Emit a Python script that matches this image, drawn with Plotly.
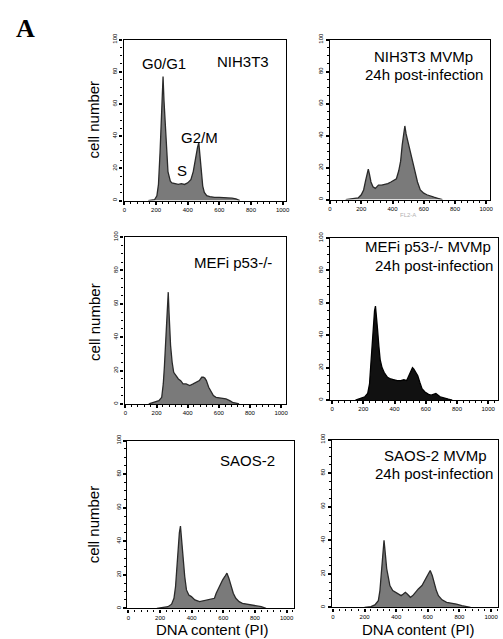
import plotly.graph_objects as go

# ---------------- data (DNA content channel, cell number as % of axis scale) ----------------
dna_nih = [150, 190, 205, 215, 225, 232, 238, 244, 250, 262, 275, 290, 300, 320, 340, 360, 380, 400,
           420, 435, 445, 455, 462, 470, 478, 487, 495, 505, 520, 540, 570, 600, 640, 680, 705, 730]
cnt_nih = [0, 0.5, 3, 10, 30, 50, 65, 77, 62, 39, 18, 12, 11, 10.5, 10, 10.5, 10, 11,
           13, 18, 24, 28, 33, 36, 28, 18, 9, 5, 3, 2.5, 2, 2, 1.8, 1.5, 1, 0]

dna_nih_mvm = [100, 150, 180, 200, 215, 228, 238, 245, 252, 262, 275, 290, 310, 330, 350, 370, 390, 410,
               425, 440, 452, 462, 470, 479, 487, 494, 505, 515, 525, 536, 548, 560, 578, 600, 620, 645,
               665, 690, 720]
cnt_nih_mvm = [0, 0.5, 1, 3, 6, 12, 17, 19, 16, 11, 8, 7, 9, 9, 9.5, 10, 11, 12,
               13, 18, 24, 34, 40, 46, 41, 38, 34, 31, 26, 22, 16, 11, 6, 4, 3, 2,
               1.5, 0.8, 0]

dna_mef = [150, 190, 215, 233, 243, 250, 258, 265, 270, 275, 280, 290, 300, 310, 325, 340, 355, 370,
           390, 413, 435, 455, 475, 490, 500, 510, 520, 535, 550, 565, 582, 610, 646, 670, 688, 710, 730]
cnt_mef = [0, 1, 2, 4, 12, 22, 38, 54, 62, 67, 55, 35, 25, 19, 17, 15, 14, 12,
           12, 11, 12, 13, 14, 16, 16, 15.5, 14, 10, 7, 5, 4, 3.5, 3, 2, 1, 0.5, 0]

dna_mef_mvm = [150, 185, 210, 228, 240, 249, 258, 266, 272, 278, 285, 291, 300, 308, 320, 334, 355, 376,
               398, 418, 440, 460, 478, 492, 505, 515, 524, 535, 549, 562, 576, 595, 618, 635, 650, 665,
               692, 720, 745, 770]
cnt_mef_mvm = [0, 1, 2, 4, 10, 23, 38, 48, 55, 58, 52, 44, 33, 25, 20, 17, 14, 13,
               12.5, 12, 12, 12.5, 12, 15, 17, 20, 19, 17, 15, 11, 7, 5, 3.5, 3, 3.5, 4,
               2, 1.5, 0.6, 0]

dna_saos = [180, 221, 250, 273, 288, 298, 307, 315, 322, 329, 336, 346, 356, 367, 382, 398, 420, 450,
            475, 502, 525, 544, 555, 564, 580, 596, 610, 623, 635, 648, 663, 679, 700, 721, 750, 783,
            810, 840, 870]
cnt_saos = [0, 0.5, 1, 2.5, 6, 13, 25, 37, 45, 49, 40, 29, 19, 11, 8, 7, 5, 4,
            4.5, 5, 5.5, 6, 9, 11, 14, 17, 19, 21, 18, 13, 9, 6, 4, 3, 2.5, 2,
            1.5, 1, 0]

dna_saos_mvm = [200, 240, 265, 287, 297, 306, 315, 323, 331, 340, 350, 360, 378, 396, 415, 431, 445, 458,
                470, 490, 505, 521, 540, 563, 580, 594, 605, 615, 628, 640, 654, 667, 690, 719, 750, 781,
                815, 844, 870]
cnt_saos_mvm = [0, 0.5, 1.5, 4, 10, 19, 30, 40, 32, 23, 18, 13, 10, 9, 8, 7, 8, 9,
                8, 6, 7, 9, 11, 13, 16, 18, 20, 22, 19, 14, 10, 7, 4.5, 3, 2.5, 2,
                1, 0.4, 0]

x_ticks = [0, 200, 400, 600, 800, 1000]
y_ticks = [0, 20, 40, 60, 80, 100]

series = [(dna_nih, cnt_nih), (dna_nih_mvm, cnt_nih_mvm), (dna_mef, cnt_mef),
          (dna_mef_mvm, cnt_mef_mvm), (dna_saos, cnt_saos), (dna_saos_mvm, cnt_saos_mvm)]

# ---------------- layout geometry ----------------
W, H = 503, 639
# pixel boxes (left, right, top, bottom) and x range per panel
boxes = [(123, 287, 33, 196), (332, 494, 33, 195), (124, 287, 233, 402),
         (332, 502, 234, 398), (127, 296, 439, 609), (334, 502, 438, 608)]
xranges = [[-6, 1019], [0, 1025], [-6, 1029], [-13, 1063], [-6, 1050], [-6, 1044]]
fills = ["#7a7a7a", "#7a7a7a", "#7a7a7a", "#111111", "#7a7a7a", "#7a7a7a"]
edges = ["#2a2a2a", "#2a2a2a", "#2a2a2a", "#000000", "#2a2a2a", "#2a2a2a"]

FONT = "Liberation Sans, Arial, sans-serif"
fig = go.Figure()
layout = dict(width=W, height=H, margin=dict(l=0, r=0, t=0, b=0),
              paper_bgcolor="white", plot_bgcolor="white", showlegend=False,
              font=dict(family=FONT, color="black"))

for i, ((xs, ys), (l, r, t, b)) in enumerate(zip(series, boxes)):
    n = "" if i == 0 else str(i + 1)
    fig.add_trace(go.Scatter(x=xs, y=ys, mode="lines", fill="tozeroy",
                             fillcolor=fills[i], line=dict(color=edges[i], width=1.3),
                             xaxis="x" + n, yaxis="y" + n, hoverinfo="skip"))
    layout["xaxis" + n] = dict(
        domain=[l / W, r / W], range=xranges[i], anchor="y" + n,
        tickmode="array", tickvals=x_ticks, ticktext=[str(v) for v in x_ticks],
        ticks="outside", ticklen=3, tickwidth=1.5, tickcolor="black",
        tickfont=dict(size=6, family=FONT, color="black"),
        minor=dict(ticks="outside", ticklen=2, tickwidth=1.2, tickcolor="black",
                   tickmode="linear", tick0=0, dtick=40),
        showline=True, linecolor="black", linewidth=1.3, mirror=True,
        showgrid=False, zeroline=False, fixedrange=True)
    layout["yaxis" + n] = dict(
        domain=[1 - b / H, 1 - t / H], range=[0, 100], anchor="x" + n,
        tickmode="array", tickvals=y_ticks, ticktext=[str(v) for v in y_ticks],
        ticks="outside", ticklen=3, tickwidth=1.5, tickcolor="black", tickangle=-90,
        tickfont=dict(size=6, family=FONT, color="black"),
        minor=dict(ticks="outside", ticklen=2, tickwidth=1.2, tickcolor="black",
                   tickmode="linear", tick0=0, dtick=5),
        showline=True, linecolor="black", linewidth=1.3, mirror=True,
        showgrid=False, zeroline=False, fixedrange=True)


def ann(text, x, y, size=15, **kw):
    d = dict(text=text, x=x / W, y=1 - y / H, xref="paper", yref="paper",
             showarrow=False, xanchor="center", yanchor="middle",
             font=dict(size=size, family=FONT, color="black"))
    d.update(kw)
    return d


annotations = [
    ann("<b>A</b>", 24, 22, font=dict(size=26, family="Liberation Serif, serif", color="black")),
    # panel labels
    ann("NIH3T3", 244, 55),
    ann("G0/G1", 164, 57),
    ann("G2/M", 200, 132),
    ann("S", 182, 166),
    ann("NIH3T3 MVMp", 427, 50),
    ann("24h post-infection", 427, 68),
    ann("MEFi p53-/-", 234, 259),
    ann("MEFi p53-/- MVMp", 431, 243),
    ann("24h post-infection", 437, 262),
    ann("SAOS-2", 248, 459),
    ann("SAOS-2 MVMp", 439, 454),
    ann("24h post-infection", 437, 472),
    # axis titles
    ann("cell number", 93, 114, textangle=-90),
    ann("cell number", 93, 319, textangle=-90),
    ann("cell number", 93, 524, textangle=-90),
    ann("DNA content (PI)", 213, 630, borderpad=0),
    ann("DNA content (PI)", 422, 630, borderpad=0),
    ann("FL2-A", 411, 211, font=dict(size=6, family=FONT, color="#b0b0b0")),
]
layout["annotations"] = annotations
fig.update_layout(**layout)
fig.write_html("out.html", config={"displayModeBar": False},
               post_script="document.body.style.margin='0';document.body.style.overflow='hidden';")
